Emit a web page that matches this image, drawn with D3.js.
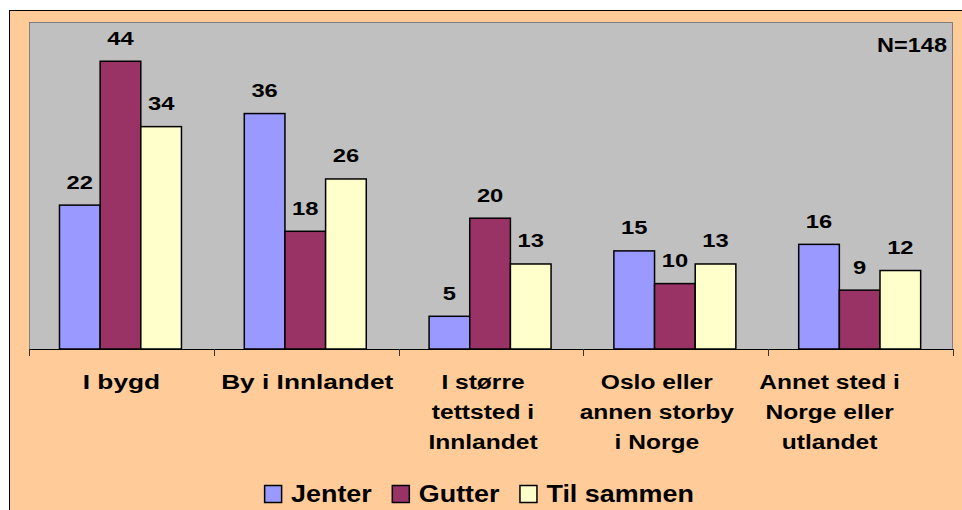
<!DOCTYPE html>
<html>
<head>
<meta charset="utf-8">
<script src="https://cdn.jsdelivr.net/npm/d3@7/dist/d3.min.js"></script>
<style>
  html, body { margin: 0; padding: 0; background: #ffffff; }
  svg { display: block; }
  text { font-family: Arial, "Liberation Sans", sans-serif; font-weight: bold; fill: #000; }
</style>
</head>
<body>
<svg id="chart" width="962" height="510"></svg>
<script>
const categories = [
  ["I bygd"],
  ["By i Innlandet"],
  ["I større", "tettsted i", "Innlandet"],
  ["Oslo eller", "annen storby", "i Norge"],
  ["Annet sted i", "Norge eller", "utlandet"]
];
const seriesNames = ["Jenter", "Gutter", "Til sammen"];
const jenter = [22, 36, 5, 15, 16];
const gutter = [44, 18, 20, 10, 9];
const tilSammen = [34, 26, 13, 13, 12];
const seriesValues = [jenter, gutter, tilSammen];
const colors = ["#9999FF", "#993366", "#FFFFCC"];
const noteText = "N=148";
const yMax = 50;

// layout: horizontal offset of wrapped category labels (as drawn in the reference)
const labelShift = [0, 1, -8, -19, -31];

const W = 962, H = 510;
const SX = 1.25; // horizontal stretch of text seen in the reference
const svg = d3.select("#chart");

// outer chart area
svg.append("rect").attr("x", 9.5).attr("y", 10.5).attr("width", W).attr("height", H)
  .attr("fill", "#FFCC99").attr("stroke", "#000").attr("stroke-width", 1);

const plot = { left: 29, right: 953, top: 22, bottom: 349 };

svg.append("rect")
  .attr("x", plot.left + 0.5).attr("y", plot.top + 0.5)
  .attr("width", plot.right - plot.left - 1).attr("height", plot.bottom - plot.top)
  .attr("fill", "#C0C0C0").attr("stroke", "#808080").attr("stroke-width", 1);

const idx = d3.range(categories.length);
const x = d3.scaleBand().domain(idx).range([plot.left, plot.right]).padding(0);
const bw = x.bandwidth();
const xs = d3.scaleBand().domain(d3.range(seriesNames.length))
  .range([bw * 0.165, bw * 0.825]).padding(0);
const y = d3.scaleLinear().domain([0, yMax]).range([plot.bottom, plot.top]);

const data = [];
idx.forEach(i => seriesValues.forEach((s, j) => data.push({ i, j, v: s[i] })));

svg.append("g").selectAll("rect").data(data).join("rect")
  .attr("x", d => x(d.i) + xs(d.j))
  .attr("y", d => y(d.v))
  .attr("width", xs.bandwidth())
  .attr("height", d => y(0) - y(d.v))
  .attr("fill", d => colors[d.j])
  .attr("stroke", "#000").attr("stroke-width", 1.5);

// value labels
svg.append("g").selectAll("text").data(data).join("text")
  .attr("transform", d => `translate(${x(d.i) + xs(d.j) + xs.bandwidth() / 2},${y(d.v) - 16.5}) scale(${SX},1)`)
  .attr("text-anchor", "middle")
  .style("font-size", "19px")
  .text(d => d.v);

// x axis
const axis = svg.append("g");
axis.append("line").attr("x1", plot.left).attr("x2", plot.right)
  .attr("y1", plot.bottom + 0.5).attr("y2", plot.bottom + 0.5)
  .attr("stroke", "#000").attr("stroke-width", 1);
const tickPos = idx.map(i => x(i)).concat([plot.right]);
axis.selectAll("line.tick").data(tickPos).join("line").attr("class", "tick")
  .attr("x1", d => Math.round(d) + 0.5).attr("x2", d => Math.round(d) + 0.5)
  .attr("y1", plot.bottom).attr("y2", plot.bottom + 7)
  .attr("stroke", "#333").attr("stroke-width", 1);

// category labels
const catG = svg.append("g").selectAll("g").data(idx).join("g");
catG.each(function (i) {
  const g = d3.select(this);
  const sx = categories[i].length > 1 ? 1.17 : SX;
  categories[i].forEach((line, k) => {
    g.append("text")
      .attr("transform", `translate(${x(i) + bw / 2 + labelShift[i]},${389 + k * 30}) scale(${sx},1)`)
      .attr("text-anchor", "middle")
      .style("font-size", "21px")
      .text(line);
  });
});

// note
svg.append("text")
  .attr("transform", `translate(947,52) scale(${SX * 0.94},1)`)
  .attr("text-anchor", "end")
  .style("font-size", "20px")
  .text(noteText);

// legend
const LSX = 1.12;
const leg = svg.append("g");
const items = [];
let lx = 0;
seriesNames.forEach((name, j) => {
  const r = leg.append("rect").attr("y", 485.5).attr("width", 17).attr("height", 17)
    .attr("fill", colors[j]).attr("stroke", "#000").attr("stroke-width", 1.5);
  const t = leg.append("text")
    .style("font-size", "24px")
    .text(name);
  const w = t.node().getComputedTextLength() * LSX;
  items.push({ r, t, x: lx });
  lx = lx + 27 + w + 20;
});
const total = lx - 20;
const start = 479 - total / 2;
items.forEach(it => {
  it.r.attr("x", start + it.x + 0.5);
  it.t.attr("transform", `translate(${start + it.x + 27},502) scale(${LSX},1)`);
});
</script>
</body>
</html>
